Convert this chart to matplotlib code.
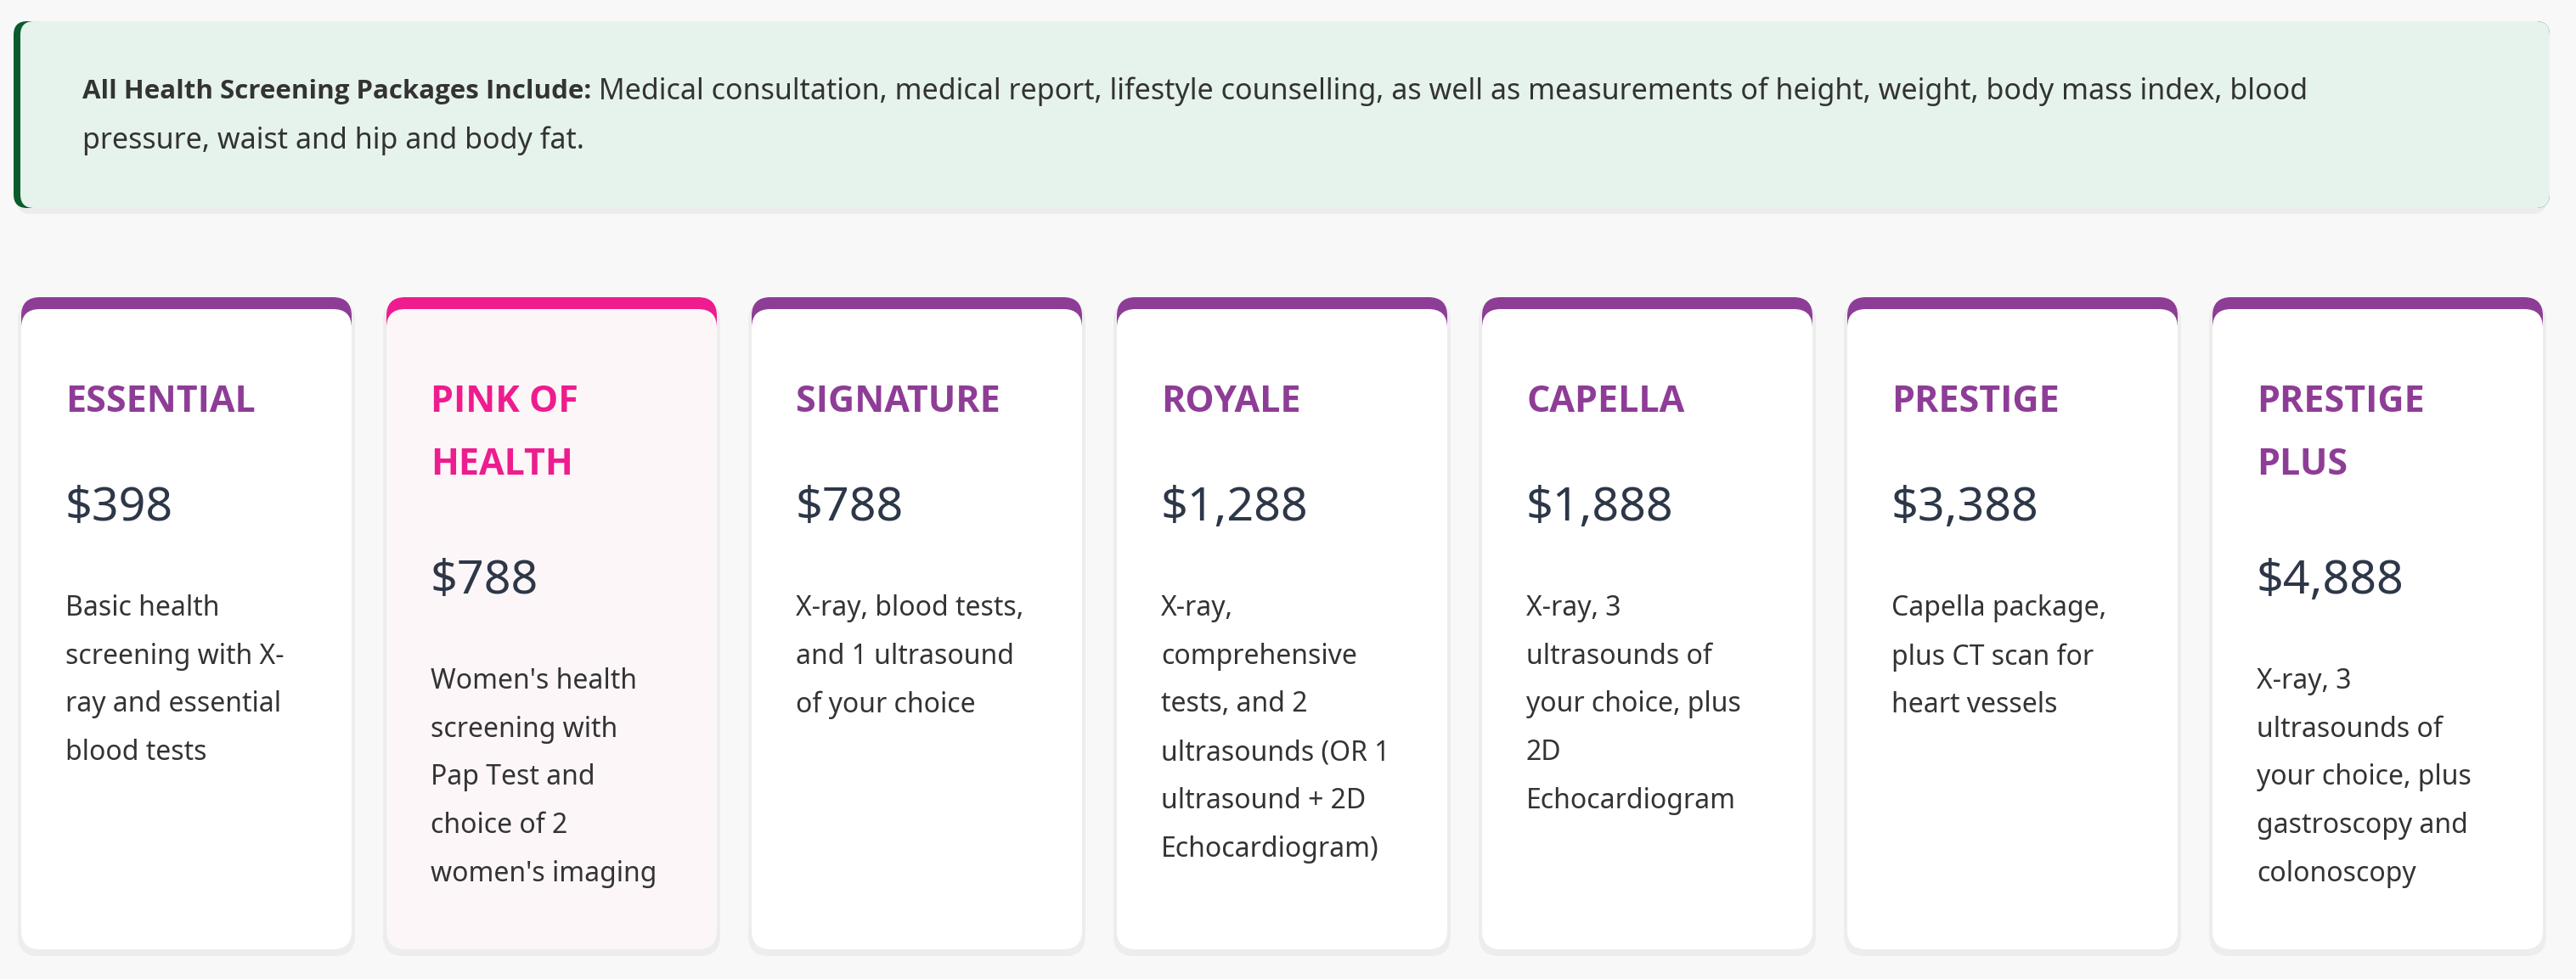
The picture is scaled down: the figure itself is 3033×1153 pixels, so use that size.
import matplotlib
matplotlib.use("Agg")
import matplotlib.pyplot as plt
from matplotlib.patches import FancyBboxPatch

FONT = "Noto Sans"
BOLD_FONT = "Open Sans"

package_names = ["ESSENTIAL", "PINK OF\nHEALTH", "SIGNATURE", "ROYALE", "CAPELLA", "PRESTIGE", "PRESTIGE\nPLUS"]
package_prices = ["$398", "$788", "$788", "$1,288", "$1,888", "$3,388", "$4,888"]
package_descriptions = [
    "Basic health\nscreening with X-\nray and essential\nblood tests",
    "Women's health\nscreening with\nPap Test and\nchoice of 2\nwomen's imaging",
    "X-ray, blood tests,\nand 1 ultrasound\nof your choice",
    "X-ray,\ncomprehensive\ntests, and 2\nultrasounds (OR 1\nultrasound + 2D\nEchocardiogram)",
    "X-ray, 3\nultrasounds of\nyour choice, plus\n2D\nEchocardiogram",
    "Capella package,\nplus CT scan for\nheart vessels",
    "X-ray, 3\nultrasounds of\nyour choice, plus\ngastroscopy and\ncolonoscopy",
]
highlighted = [False, True, False, False, False, False, False]

banner_bold = "All Health Screening Packages Include:"
banner_rest_1 = " Medical consultation, medical report, lifestyle counselling, as well as measurements of height, weight, body mass index, blood"
banner_rest_2 = "pressure, waist and hip and body fat."

PURPLE = "#8e3d96"
PINK = "#ee1c8f"
DARK = "#2d3748"
TEXT = "#333333"

W, H = 3033, 1153
fig = plt.figure(figsize=(W / 100, H / 100), dpi=100)
fig.patch.set_facecolor("#f8f8f8")
ax = fig.add_axes([0, 0, 1, 1])
ax.set_xlim(0, W)
ax.set_ylim(H, 0)
ax.axis("off")

# banner
ax.add_patch(FancyBboxPatch((20, 30), 2978, 222, boxstyle="round,pad=0,rounding_size=16",
                            fc="#ececec", ec="none", zorder=1))
ax.add_patch(FancyBboxPatch((16, 25), 2986, 220, boxstyle="round,pad=0,rounding_size=16",
                            fc="#0b5a2c", ec="none", zorder=2))
ax.add_patch(FancyBboxPatch((24, 25), 2978, 220, boxstyle="round,pad=0,rounding_size=16",
                            fc="#e6f3ec", ec="none", zorder=3))
t = ax.text(97, 108, banner_bold, fontsize=22.5, fontweight="bold", color=TEXT,
            family=BOLD_FONT, va="center", zorder=4)
fig.canvas.draw()
bb = t.get_window_extent()
ax.text(97 + bb.width, 108, banner_rest_1, fontsize=24.5, color=TEXT, family=FONT, va="center", zorder=4)
ax.text(97, 166, banner_rest_2, fontsize=24.5, color=TEXT, family=FONT, va="center", zorder=4)

# cards
x0, pitch, cw = 25, 430, 389
top, bottom = 350, 1118
for i, (name, price, desc) in enumerate(zip(package_names, package_prices, package_descriptions)):
    x = x0 + i * pitch
    accent = PINK if highlighted[i] else PURPLE
    body = "#fcf6f8" if highlighted[i] else "white"
    ax.add_patch(FancyBboxPatch((x - 4, top + 4), cw + 8, bottom - top + 4,
                                boxstyle="round,pad=0,rounding_size=24", fc="#ededed", ec="none", zorder=1))
    ax.add_patch(FancyBboxPatch((x, top), cw, 80, boxstyle="round,pad=0,rounding_size=22",
                                fc=accent, ec="none", zorder=2))
    ax.add_patch(FancyBboxPatch((x, top + 14), cw, bottom - top - 14,
                                boxstyle="round,pad=0,rounding_size=22", fc=body, ec="none", zorder=3))
    tx = x + 52
    n_lines = name.count("\n") + 1
    ax.text(tx, 452, name, fontsize=31, fontweight="bold", color=accent, family=BOLD_FONT,
            va="top", linespacing=1.95, zorder=4)
    py = 598 + (n_lines - 1) * 86
    ax.text(tx, py, price, fontsize=40, color=DARK, family=FONT, va="center", zorder=4)
    ax.text(tx, py + 102, desc, fontsize=23, color=TEXT, family=FONT, va="top",
            linespacing=1.95, zorder=4)

fig.savefig("out.png", dpi=100, facecolor=fig.get_facecolor())
